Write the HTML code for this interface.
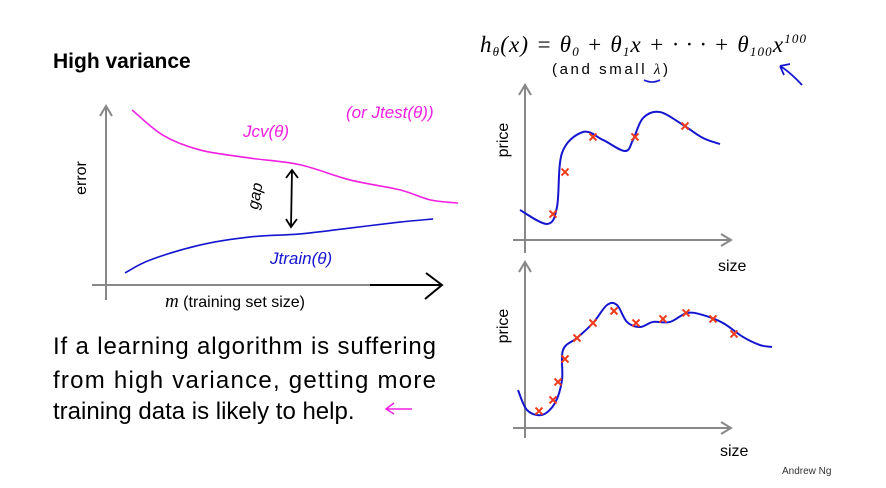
<!DOCTYPE html>
<html><head><meta charset="utf-8">
<style>
body{margin:0;background:#fff;}
svg{display:block;font-family:"Liberation Sans",sans-serif;}
</style></head>
<body>
<svg id="s" width="886" height="488" viewBox="0 0 886 488" xmlns="http://www.w3.org/2000/svg">
<rect width="886" height="488" fill="#fff"/>
<text x="53" y="68" font-size="21" font-weight="bold" fill="#000">High variance</text>
<text x="480" y="52" font-family="Liberation Serif,serif" font-style="italic" font-size="23" fill="#000" textLength="326" lengthAdjust="spacing">h<tspan font-size="13" dy="4">θ</tspan><tspan dy="-4">(x) = θ</tspan><tspan font-size="13" dy="4">0</tspan><tspan dy="-4"> + θ</tspan><tspan font-size="13" dy="4">1</tspan><tspan dy="-4">x + · · · + θ</tspan><tspan font-size="13" dy="4">100</tspan><tspan dy="-4">x</tspan><tspan font-size="13" dy="-9">100</tspan></text>
<text x="552" y="74" font-size="15" fill="#000" textLength="116" lengthAdjust="spacing">(and small <tspan font-family="Liberation Serif,serif" font-style="italic">λ</tspan>)</text>
<path d="M644 80 Q652 84 660 80" stroke="#1515d0" stroke-width="1.6" fill="none"/>
<path d="M802 85 Q790 72 780 66 M780 66 L790 64 M780 66 L784 75" stroke="#1515d0" stroke-width="1.8" fill="none"/>

<g stroke="#888" stroke-width="2" fill="none">
<line x1="106" y1="300" x2="106" y2="108"/>
<path d="M100 116 L106 106 L112 116"/>
<line x1="92" y1="285" x2="375" y2="285"/>
</g>
<path d="M370 285 L442 285 M426 273 L442 285 L425 299" stroke="#000" stroke-width="2" fill="none"/>
<text transform="translate(86,178) rotate(-90)" font-size="16" text-anchor="middle">error</text>
<text x="165" y="307" font-size="16"><tspan font-family="Liberation Serif,serif" font-style="italic" font-size="19">m</tspan> (training set size)</text>
<g id="lc"></g>
<text x="243" y="137" font-size="17" fill="#f020e0" font-style="italic">Jcv(θ)</text>
<text x="346" y="118" font-size="17" fill="#f020e0" font-style="italic">(or Jtest(θ))</text>
<text x="270" y="264" font-size="17" fill="#1515d0" font-style="italic">Jtrain(θ)</text>
<text transform="translate(258,210) rotate(-80)" font-size="16" font-style="italic">gap</text>
<path d="M292 170 L291 227 M286 178 L292 170 L298 178 M286 219 L291 227 L297 219" stroke="#000" stroke-width="1.8" fill="none"/>

<g font-size="24" fill="#000">
<text x="53" y="354" textLength="383" lengthAdjust="spacing">If a learning algorithm is suffering</text>
<text x="53" y="388" textLength="383" lengthAdjust="spacing">from high variance, getting more</text>
<text x="53" y="419">training data is likely to help.</text>
</g>
<path d="M412 409 L386 409 M394 403 L386 409 L394 414" stroke="#f020e0" stroke-width="1.5" fill="none"/>

<g stroke="#888" stroke-width="2" fill="none">
<line x1="525" y1="253" x2="525" y2="86"/><path d="M519 95 L525 85 L531 95"/>
<line x1="513" y1="240" x2="730" y2="240"/><path d="M721 234 L731 240 L721 246"/>
</g>
<text transform="translate(508,140) rotate(-90)" font-size="16" text-anchor="middle">price</text>
<text x="718" y="271" font-size="16">size</text>
<g id="tp"></g>

<g stroke="#888" stroke-width="2" fill="none">
<line x1="525" y1="438" x2="525" y2="263"/><path d="M519 272 L525 262 L531 272"/>
<line x1="513" y1="428" x2="730" y2="428"/><path d="M721 422 L731 428 L721 434"/>
</g>
<text transform="translate(508,326) rotate(-90)" font-size="16" text-anchor="middle">price</text>
<text x="720" y="456" font-size="16">size</text>
<g id="bp"></g>

<text x="782" y="474" font-size="10" fill="#333">Andrew Ng</text>
</svg>
<script>
const cvM = [7.7,16.8,27.7,42.5,57.2,72,86.7,95.6,103.8];
const cvErr = [9.46,8.1,7.3,6.86,6.5,5.68,5.14,4.6,4.43];
const trM = [5.6,13,27.7,42.5,57.2,72,86.7,96.5];
const trErr = [0.65,1.35,2.16,2.6,2.76,3.08,3.4,3.57];
const topCurveSize = [-0.25,1.1,1.6,1.85,2.9,3.9,5,5.4,5.9,6.75,7.9,8.9,9.75];
const topCurvePrice = [2,1.07,2.2,5.8,7.2,6.67,5.93,6.67,8.13,8.53,7.67,6.8,6.4];
const topPtSize = [1.4,2,3.4,5.5,8];
const topPtPrice = [1.73,4.53,6.87,6.87,7.6];
const botCurveSize = [-0.35,0.1,0.85,1.5,1.85,1.9,2.6,3.4,4.1,4.6,5.1,5.75,6.4,7.25,8.1,8.9,9.9,10.9,11.75,12.35];
const botCurvePrice = [2.53,1.2,0.87,1.67,3.2,5.2,6,7,8.2,8.2,7.07,6.73,7.07,7.07,7.67,7.53,7,6.07,5.53,5.4];
const botPtSize = [0.7,1.4,1.65,2,2.6,3.4,4.45,5.55,6.9,8.05,9.4,10.45];
const botPtPrice = [1.13,1.87,3.07,4.6,6,7,7.8,7,7.27,7.67,7.27,6.27];

const NS='http://www.w3.org/2000/svg';
const lcX = m => 106 + m*3.39;
const lcY = e => 285 - e*18.5;
const fX = s => 525 + s*20;
const tY = p => 240 - p*15;
const bY = p => 428 - p*15;

function smooth(pts){
  let d='M'+pts[0][0]+' '+pts[0][1];
  for(let i=0;i<pts.length-1;i++){
    const p0=pts[Math.max(0,i-1)],p1=pts[i],p2=pts[i+1],p3=pts[Math.min(pts.length-1,i+2)];
    const c1=[p1[0]+(p2[0]-p0[0])/6,p1[1]+(p2[1]-p0[1])/6];
    const c2=[p2[0]-(p3[0]-p1[0])/6,p2[1]-(p3[1]-p1[1])/6];
    d+=' C'+c1[0]+' '+c1[1]+' '+c2[0]+' '+c2[1]+' '+p2[0]+' '+p2[1];
  }
  return d;
}
function curve(g,xs,ys,sx,sy,color,w,name){
  const p=document.createElementNS(NS,'path');
  p.setAttribute('d',smooth(xs.map((x,i)=>[sx(x),sy(ys[i])])));
  p.setAttribute('stroke',color);p.setAttribute('stroke-width',w);p.setAttribute('fill','none');
  
  
  g.appendChild(p);
}
function crosses(g,xs,ys,sx,sy){
  xs.forEach((x,i)=>{
    const cx=sx(x),cy=sy(ys[i]);
    const p=document.createElementNS(NS,'path');
    p.setAttribute('d',`M${cx-3.5} ${cy-3.5} L${cx+3.5} ${cy+3.5} M${cx+3.5} ${cy-3.5} L${cx-3.5} ${cy+3.5}`);
    p.setAttribute('stroke','#f03a1a');p.setAttribute('stroke-width','2');
    
    
    g.appendChild(p);
  });
}
const lc=document.getElementById('lc');
curve(lc,cvM,cvErr,lcX,lcY,'#f020e0',1.6,'cv-error-curve');
curve(lc,trM,trErr,lcX,lcY,'#1515d0',1.6,'train-error-curve');
const tp=document.getElementById('tp');
curve(tp,topCurveSize,topCurvePrice,fX,tY,'#1515d0',2,'top-fit-curve');
crosses(tp,topPtSize,topPtPrice,fX,tY);
const bp=document.getElementById('bp');
curve(bp,botCurveSize,botCurvePrice,fX,bY,'#1515d0',2,'bottom-fit-curve');
crosses(bp,botPtSize,botPtPrice,fX,bY);
</script>
</body></html>
